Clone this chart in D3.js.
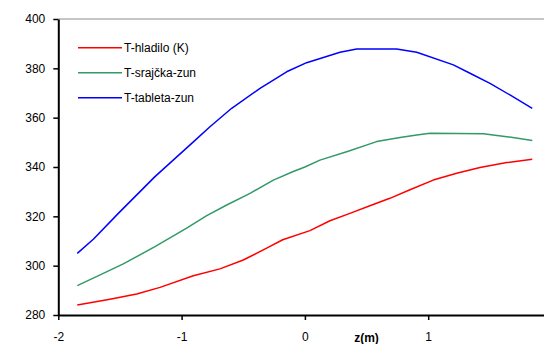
<!DOCTYPE html>
<html><head><meta charset="utf-8">
<script src="https://cdn.jsdelivr.net/npm/d3@7"></script>
<style>body{margin:0;background:#fff}svg{display:block}text{font-family:"Liberation Sans",Arial,sans-serif}</style>
</head><body><svg id="c" width="544" height="344"></svg>
<script>
const seriesNames = ["T-hladilo (K)", "T-srajčka-zun", "T-tableta-zun"];
const seriesColors = ["#ff0000", "#339966", "#0000ff"];
const redZ = [-1.846,-1.581,-1.364,-1.175,-0.905,-0.689,-0.500,-0.310,-0.180,0.041,0.203,0.365,0.527,0.689,0.852,1.041,1.231,1.420,1.637,1.844];
const redT = [284.1,286.4,288.5,291.2,295.9,298.7,302.3,307.1,310.5,314.2,318.2,321.2,324.3,327.3,330.8,334.7,337.5,339.8,341.8,343.1];
const greenZ = [-1.846,-1.635,-1.473,-1.216,-0.959,-0.796,-0.634,-0.445,-0.256,-0.094,0.000,0.122,0.339,0.582,0.771,0.907,1.015,1.447,1.637,1.844];
const greenT = [291.9,296.9,300.7,307.7,315.2,320.3,324.6,329.3,334.7,338.2,340.0,342.8,346.2,350.3,352.0,353.0,353.7,353.5,352.3,350.7];
const blueZ = [-1.846,-1.716,-1.513,-1.216,-0.918,-0.770,-0.594,-0.364,-0.148,0.014,0.285,0.420,0.744,0.907,1.204,1.339,1.501,1.663,1.844];
const blueT = [305.0,310.7,321.2,336.1,349.6,356.3,363.8,371.9,378.6,382.3,386.5,387.8,387.8,386.5,381.4,378.0,373.9,369.2,363.8];
const xTicks = [-2,-1,0,1];
const yTicks = [280,300,320,340,360,380,400];
const xTitle = "z(m)";

const svg = d3.select("#c");
const x = d3.scaleLinear().domain([-2,2]).range([58.3,551.5]);
const y = d3.scaleLinear().domain([280,400]).range([315,19]);

// top border
svg.append("line").attr("x1",x(-2)).attr("x2",544).attr("y1",y(400)).attr("y2",y(400))
  .attr("stroke","#8c8c8c").attr("stroke-width",1);

const series = [[redZ,redT],[greenZ,greenT],[blueZ,blueT]];
const line = d3.line().x(d=>x(d[0])).y(d=>y(d[1]));
series.forEach((s,i)=>{
  const pts = s[0].map((z,j)=>[z,s[1][j]]);
  svg.append("path").datum(pts).attr("d",line).attr("fill","none")
    .attr("stroke",seriesColors[i]).attr("stroke-width",1.5).attr("stroke-linejoin","round");
});

// axes
const yAxis = svg.append("g").attr("transform",`translate(${x(-2)},0)`)
  .call(d3.axisLeft(y).tickValues(yTicks).tickSize(5).tickPadding(8).tickSizeOuter(0));
const xAxis = svg.append("g").attr("transform",`translate(0,${y(280)})`)
  .call(d3.axisBottom(x).tickValues(xTicks).tickSize(5).tickPadding(12).tickSizeOuter(0).tickFormat(d3.format("d")));
[xAxis,yAxis].forEach(g=>{
  g.select(".domain").attr("stroke","#000").attr("stroke-width",2);
  g.selectAll(".tick line").attr("stroke","#000").attr("stroke-width",1.5);
  g.selectAll(".tick text").attr("fill","#000").style("font-size","12px").style("font-family","'Liberation Sans',Arial,sans-serif");
});
xAxis.selectAll(".tick text").text(d=>d<0?"-"+Math.abs(d):d);

svg.append("text").attr("x",366.5).attr("y",342).attr("text-anchor","middle")
  .style("font-size","12px").style("font-weight","bold").text(xTitle);

// legend
seriesNames.forEach((n,i)=>{
  const ly = 47.7 + i*25;
  svg.append("line").attr("x1",78).attr("x2",122).attr("y1",ly).attr("y2",ly)
    .attr("stroke",seriesColors[i]).attr("stroke-width",1.5);
  svg.append("text").attr("x",124).attr("y",ly+4.5).style("font-size","12px").text(n);
});
</script></body></html>
